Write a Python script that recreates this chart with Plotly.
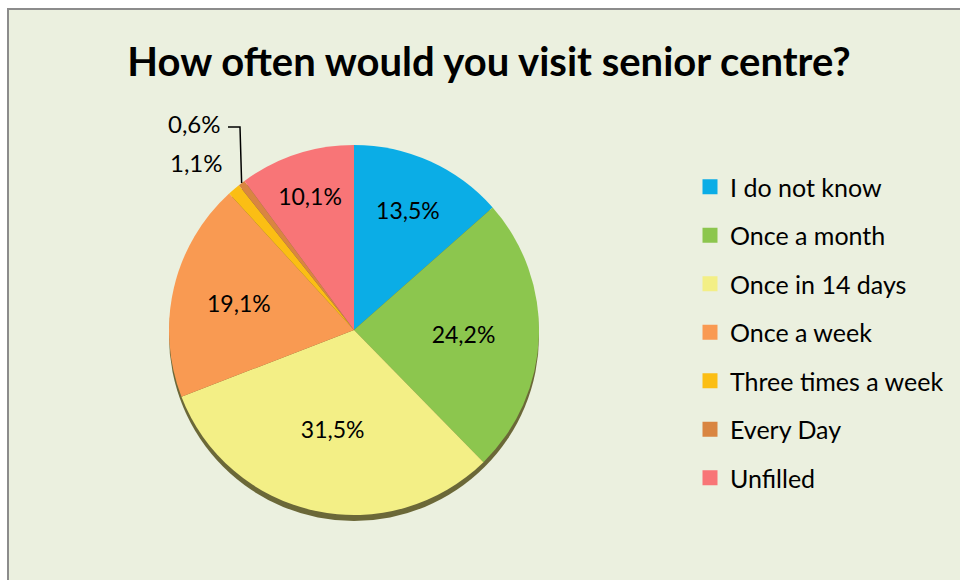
import math
import plotly.graph_objects as go

# Survey answers: "How often would you visit senior centre?"
categories = ["I do not know", "Once a month", "Once in 14 days", "Once a week",
              "Three times a week", "Every Day", "Unfilled"]
shares = [13.5, 24.2, 31.5, 19.1, 1.1, 0.6, 10.1]
colors = ["#0BADE6", "#8CC64E", "#F3EF86", "#F99A52", "#FBBE14", "#D98541", "#F87577"]

W, H = 960, 580
BG = "#EBF0DF"
FONT = "Lato"

# pie geometry in pixels
cx, cy, r = 354, 330, 185

def px_x(x):
    return x / W

def px_y(y):
    return 1 - y / H

def fmt(v):
    return f"{v:.1f}".replace(".", ",") + "%"

small = [v < 2 for v in shares]

fig = go.Figure()

# drop shadow under the pie
shadow_dy = 6
fig.add_trace(go.Pie(
    values=[1], labels=["shadow"], marker=dict(colors=["#6B6838"]),
    textinfo="none", hoverinfo="skip", showlegend=False, sort=False,
    domain=dict(x=[px_x(cx - r), px_x(cx + r)],
                y=[px_y(cy + r + shadow_dy), px_y(cy - r + shadow_dy)]),
))

fig.add_trace(go.Pie(
    labels=categories, values=shares, sort=False, direction="clockwise",
    rotation=0,
    marker=dict(colors=colors, line=dict(width=0)),
    text=[fmt(v) for v in shares],
    texttemplate=["" if s else "%{text}" for s in small],
    textposition=["none" if s else "inside" for s in small],
    insidetextorientation="horizontal",
    textfont=dict(family=FONT, size=23, color="black"),
    showlegend=False, hoverinfo="label+text",
    domain=dict(x=[px_x(cx - r), px_x(cx + r)],
                y=[px_y(cy + r), px_y(cy - r)]),
))

# legend entries, one group each so they can be spaced apart
for name, col in zip(categories, colors):
    fig.add_trace(go.Scatter(
        x=[None], y=[None], mode="markers", name=name, legendgroup=name,
        marker=dict(symbol="square", size=15, color=col),
    ))

# labels for the two thin slices, with a leader line for the thinnest one
total = sum(shares)
start = sum(shares[:5])
mid_angle = (start + shares[5] / 2) / total * 2 * math.pi
ex = cx + r * math.sin(mid_angle)
ey = cy - r * math.cos(mid_angle)

annotations = [
    dict(x=px_x(223), y=px_y(124), xref="paper", yref="paper", text=fmt(shares[5]),
         showarrow=False, xanchor="right", yanchor="middle",
         font=dict(family=FONT, size=24, color="black")),
    dict(x=px_x(225), y=px_y(163), xref="paper", yref="paper", text=fmt(shares[4]),
         showarrow=False, xanchor="right", yanchor="middle",
         font=dict(family=FONT, size=24, color="black")),
]

shapes = [
    dict(type="rect", xref="paper", yref="paper",
         x0=px_x(8), x1=1.05, y0=-0.05, y1=px_y(9),
         line=dict(color="#8C8C8C", width=2), fillcolor=BG, layer="below"),
    dict(type="path", xref="paper", yref="paper",
         path=f"M {px_x(ex)} {px_y(ey)} L {px_x(240)} {px_y(127)} L {px_x(228)} {px_y(127)}",
         line=dict(color="black", width=1.5)),
]

fig.update_layout(
    width=W, height=H,
    margin=dict(l=0, r=0, t=0, b=0),
    paper_bgcolor="white", plot_bgcolor="rgba(0,0,0,0)",
    title=dict(text="<b>How often would you visit senior centre?</b>",
               x=px_x(489), y=px_y(62), xanchor="center", yanchor="middle",
               font=dict(family=FONT, size=40, color="black")),
    xaxis=dict(visible=False), yaxis=dict(visible=False),
    legend=dict(x=px_x(690), y=px_y(164), xanchor="left", yanchor="top",
                font=dict(family=FONT, size=25, color="black"),
                bgcolor="rgba(0,0,0,0)", tracegroupgap=13, itemwidth=30),
    annotations=annotations,
    shapes=shapes,
    showlegend=True,
)

fig.write_html("out.html")
